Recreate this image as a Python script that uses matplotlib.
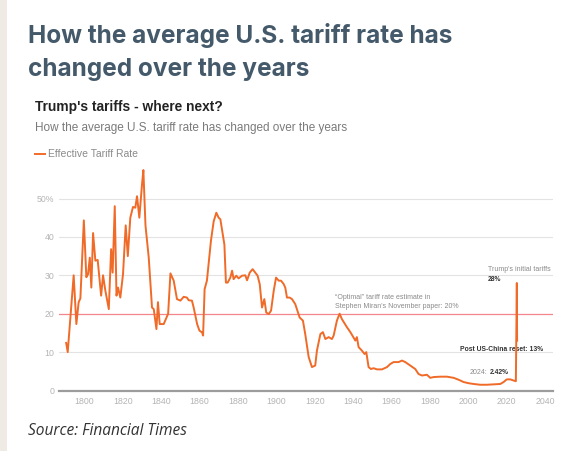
import matplotlib
matplotlib.use("Agg")
import matplotlib.pyplot as plt

# Effective tariff rate (%)
years = [1790.5, 1791.3, 1794.4, 1795.8, 1797.0, 1797.9, 1799.7, 1801.0, 1801.9, 1802.8,
         1803.6, 1804.5, 1805.7, 1806.9, 1808.7, 1809.7, 1810.9, 1812.7, 1813.9, 1814.7,
         1815.8, 1816.7, 1817.5, 1818.7, 1820.1, 1821.5, 1822.6, 1823.9, 1825.3, 1826.5,
         1827.4, 1828.6, 1830.0, 1830.7, 1831.8, 1833.5, 1835.2, 1836.1, 1837.5, 1838.3,
         1839.2, 1841.3, 1843.6, 1844.8, 1846.5, 1848.2, 1850.0, 1851.7, 1853.4, 1854.3,
         1856.0, 1856.9, 1858.7, 1859.9, 1861.3, 1861.8, 1862.6, 1863.8, 1865.9, 1867.3,
         1868.7, 1869.9, 1870.8, 1872.9, 1873.7, 1874.6, 1876.0, 1876.9, 1877.7, 1879.1,
         1880.3, 1882.1, 1883.8, 1884.7, 1886.1, 1887.6, 1889.0, 1890.2, 1891.3, 1892.5,
         1893.7, 1894.7, 1896.0, 1897.2, 1898.6, 1899.8, 1901.2, 1902.4, 1903.8, 1904.6,
         1905.5, 1906.9, 1908.1, 1909.8, 1912.1, 1913.8, 1915.0, 1916.8, 1918.5, 1920.2,
         1921.1, 1922.9, 1924.2, 1925.5, 1927.2, 1928.9, 1929.8, 1931.5, 1932.9, 1934.1,
         1936.7, 1938.5, 1941.1, 1941.9, 1942.8, 1944.5, 1945.9, 1946.8, 1948.0, 1949.2,
         1950.6, 1952.4, 1955.0, 1957.6, 1959.3, 1961.0, 1963.6, 1965.4, 1967.1, 1969.7,
         1972.3, 1974.0, 1975.8, 1978.4, 1980.1, 1981.9, 1985.3, 1988.8, 1992.3, 1994.9,
         1997.5, 2000.1, 2002.7, 2006.1, 2009.6, 2013.1, 2016.6, 2018.3, 2020.0, 2021.8,
         2023.5, 2024.7, 2025.2, 2025.35]
rates = [12.4, 10.0, 30.0, 17.3, 23.0, 24.0, 44.3, 29.5, 30.3, 34.6,
         26.8, 41.0, 33.8, 34.0, 24.7, 30.0, 26.0, 21.2, 36.8, 30.7,
         48.0, 24.7, 26.8, 24.2, 30.3, 43.0, 35.0, 45.0, 47.8, 47.6,
         50.6, 45.0, 53.7, 57.4, 43.0, 34.6, 21.6, 21.2, 16.0, 23.0,
         17.3, 17.3, 20.0, 30.5, 28.6, 23.8, 23.4, 24.4, 24.2, 23.5,
         23.4, 21.6, 17.3, 15.6, 15.1, 14.3, 26.4, 28.6, 39.0, 44.0,
         46.3, 45.0, 44.6, 38.0, 28.1, 28.1, 29.4, 31.2, 29.0, 29.9,
         29.2, 29.9, 30.0, 28.7, 30.7, 31.6, 30.7, 29.9, 27.7, 21.6,
         23.8, 20.3, 19.9, 20.8, 26.0, 29.4, 28.6, 28.6, 27.7, 26.8,
         24.2, 24.2, 23.8, 22.5, 19.0, 18.2, 14.7, 8.7, 6.1, 6.5,
         10.4, 14.7, 15.2, 13.4, 13.9, 13.4, 14.3, 18.2, 20.0, 18.6,
         16.5, 15.2, 13.0, 13.9, 11.3, 10.4, 9.5, 10.0, 6.1, 5.6,
         5.8, 5.5, 5.5, 6.1, 6.9, 7.4, 7.4, 7.8, 7.4, 6.5,
         5.6, 4.3, 3.9, 4.1, 3.3, 3.5, 3.6, 3.6, 3.3, 2.8,
         2.2, 1.9, 1.7, 1.5, 1.5, 1.6, 1.7, 2.2, 2.9, 2.9,
         2.6, 2.42, 28.0, 13.0]

y_ticks = [0, 10, 20, 30, 40, 50]
y_labels = ["0", "10", "20", "30", "40", "50%"]
x_ticks = list(range(1800, 2041, 20))
miran_rate = 20

W, H = 573, 451
fig = plt.figure(figsize=(W / 100, H / 100), dpi=100)
fig.patch.set_facecolor("white")

# beige strip on the left edge
fig.patches.append(plt.Rectangle((0, 0), 7 / W, 1, transform=fig.transFigure,
                                 facecolor="#efebe4", edgecolor="none"))


def fx(px):
    return px / W


def fy(py):
    return 1 - py / H


# headline
title_font = ["Inter", "DejaVu Sans"]
fig.text(fx(28), fy(43.3), "How the average U.S. tariff rate has", family=title_font,
         fontsize=17.6, fontweight="bold", color="#44596a", va="baseline")
fig.text(fx(28), fy(76), "changed over the years", family=title_font,
         fontsize=17.6, fontweight="bold", color="#44596a", va="baseline")

# chart header
body = ["Liberation Sans", "DejaVu Sans"]
fig.text(fx(35), fy(111), "Trump's tariffs - where next?", family=body,
         fontsize=9.9, fontweight="bold", color="#222222", va="baseline")
fig.text(fx(35), fy(130.7), "How the average U.S. tariff rate has changed over the years",
         family=body, fontsize=8.5, color="#7a7a7a", va="baseline")
fig.lines.append(plt.Line2D([fx(34.5), fx(45)], [fy(153.7), fy(153.7)],
                            transform=fig.transFigure, color="#f26b2a", lw=1.4))
fig.text(fx(48.5), fy(153.7), "Effective Tariff Rate", family=body,
         fontsize=7.5, color="#8a8a8a", va="center")

# plot area
x0, x1 = 1786.5, 2044.2
y_top = 58
left, right, zero_px = 58.5, 553.3, 390.5
top_px = zero_px - y_top * 3.84
ax = fig.add_axes([fx(left), fy(zero_px), (right - left) / W, (zero_px - top_px) / H])
ax.set_xlim(x0, x1)
ax.set_ylim(0, y_top)
for s in ax.spines.values():
    s.set_visible(False)
ax.set_facecolor("none")

for v in y_ticks[1:]:
    if v != miran_rate:
        ax.axhline(v, color="#e3e3e3", lw=0.8, zorder=1)
ax.axhline(miran_rate, color="#f2868a", lw=0.9, zorder=1)
ax.axhline(0, color="#9c9c9c", lw=1.6, zorder=1, clip_on=False)

ax.plot(years, rates, color="#f06a28", lw=1.4, zorder=4, solid_joinstyle="round")

ax.set_yticks(y_ticks)
ax.set_yticklabels(y_labels)
ax.set_xticks(x_ticks)
ax.tick_params(length=0, labelsize=6.3, labelcolor="#b4b4b4")
ax.tick_params(axis="x", pad=4.5)
ax.tick_params(axis="y", pad=3)
for lab in ax.get_xticklabels() + ax.get_yticklabels():
    lab.set_family(body)

# annotations
small = dict(family=body, fontsize=5.0, color="#8a8a8a", va="center", zorder=3)
bold = dict(family=body, fontsize=4.9, color="#333333", fontweight="bold", va="center", zorder=3)
ax.text(2010.3, 31.4, "Trump's initial tariffs", **small)
ax.text(2010.3, 29.0, "28%", **bold)
ax.text(1930.7, 24.3, "\u201cOptimal\u201d tariff rate estimate in", **small)
ax.text(1930.7, 22.0, "Stephen Miran's November paper: 20%", **small)
ax.text(1995.7, 10.8, "Post US-China reset: 13%", **bold)
ax.text(2000.8, 4.6, "2024:", **small)
ax.text(2011.0, 4.6, "2.42%", **bold)

fig.text(fx(28), fy(435), "Source: Financial Times", family=["Open Sans", "DejaVu Sans"],
         fontsize=11.2, style="italic", color="#333333", va="baseline")

fig.savefig("out.png", dpi=100)
